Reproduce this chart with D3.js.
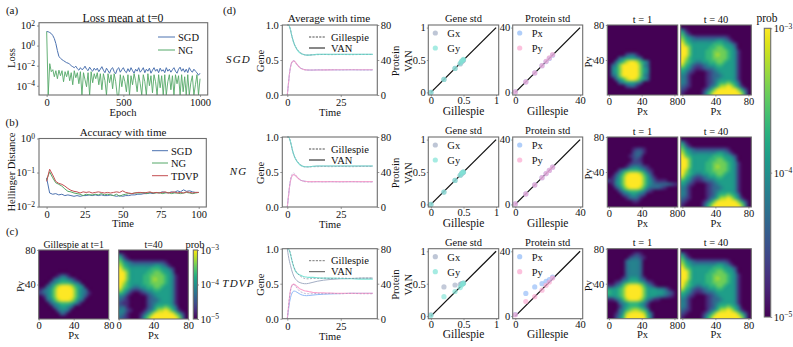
<!DOCTYPE html>
<html>
<head>
<meta charset="utf-8">
<title>Chart</title>
<script src="https://d3js.org/d3.v7.min.js"></script>
<style>
  body { margin: 0; background: #fff; }
  svg { display: block; }
  text { font-family: "Liberation Serif", serif; fill: #111; }
</style>
</head>
<body>
<svg id="chart" width="793" height="347"></svg>
<script>
// (a) loss, log10 of the value, one entry every 10 epochs
var lossSgd = [1.4,1.38,1.3,1.2,1.0,0.7,0.2,-0.5,-1.1,-1.25,-1.4,-1.5,-1.6,-1.7,-1.75,-1.85,-2.0,-2.1,-2.2,-2.05,
  -2.3,-2.45,-2.2,-2.4,-2.3,-2.05,-2.35,-2.5,-2.15,-2.4,-2.55,-2.25,-2.45,-2.25,-2.6,-2.35,-2.1,-2.45,-2.7,-2.25,
  -2.5,-2.75,-2.35,-2.2,-2.6,-2.8,-2.35,-2.2,-2.65,-2.4,-2.2,-2.55,-2.7,-2.3,-2.6,-2.2,-2.5,-2.75,-2.35,-2.55,
  -2.2,-2.65,-2.45,-2.2,-2.7,-2.35,-2.55,-2.25,-2.75,-2.45,-2.2,-2.55,-2.35,-2.7,-2.25,-2.55,-2.4,-2.7,-2.2,-2.55,
  -2.35,-2.65,-2.4,-2.2,-2.55,-2.75,-2.35,-2.15,-2.55,-2.3,-2.65,-2.35,-2.7,-2.2,-2.5,-2.65,-2.35,-2.55,-2.7,-2.95,-2.75];
var lossNg = [1.4,-4.9,-1.8,-2.6,-2.4,-3.1,-2.5,-3.3,-2.45,-3.0,-2.5,-3.6,-2.6,-3.1,-2.5,-3.5,-2.7,-3.9,-2.5,-3.2,
  -2.7,-3.8,-2.6,-5,-2.7,-3.4,-4.1,-2.7,-5,-2.6,-3.7,-2.8,-3.3,-2.7,-3.9,-2.8,-4.4,-2.8,-3.5,-5,
  -2.8,-3.7,-2.9,-4.3,-2.8,-3.6,-5,-5,-2.9,-4.1,-3.0,-3.6,-4.6,-2.9,-5,-3.0,-3.9,-2.8,-3.5,-4.6,
  -2.9,-3.8,-5,-2.9,-3.6,-5,-2.8,-4.0,-3.0,-4.7,-2.9,-3.6,-5,-2.9,-4.2,-3.0,-5,-2.9,-5,-3.6,
  -2.9,-4.4,-3.0,-5,-2.9,-3.8,-3.0,-5,-2.9,-4.6,-3.1,-5,-2.9,-5,-3.7,-3.0,-5,-3.9,-2.9,-5,-3.3];
var lossTicks = [1e2, 1, 1e-2, 1e-4];

// (b) Hellinger distance, one entry every 2 time units
var hellSgd = [.07,.025,.023,.024,.022,.023,.021,.022,.021,.02,.021,.02,.021,.021,.022,.021,.022,.021,.022,.021,.021,.022,.021,.02,.021,.02,.021,.021,.022,.022,.023,.023,.024,.024,.025,.024,.026,.025,.027,.026,.025,.027,.026,.029,.027,.031,.028,.029,.027,.026,.026];
var hellNg = [.06,.105,.07,.05,.045,.04,.033,.028,.027,.025,.024,.023,.021,.023,.022,.022,.023,.022,.024,.022,.023,.022,.021,.023,.02,.022,.023,.024,.024,.025,.025,.025,.026,.024,.026,.025,.025,.026,.024,.025,.026,.024,.025,.025,.024,.025,.026,.025,.024,.025,.026];
var hellTdvp = [.055,.125,.085,.055,.048,.045,.04,.034,.03,.028,.027,.025,.027,.026,.027,.025,.026,.027,.026,.025,.026,.025,.026,.027,.026,.029,.026,.025,.024,.025,.026,.026,.025,.026,.027,.025,.026,.025,.026,.027,.025,.026,.027,.025,.026,.025,.027,.026,.025,.026,.026];
var hellTicks = [1, 0.1, 0.01];

// (d) averages against time; gene on the left axis, protein on the right
var times = [0,.5,1,1.5,2,2.5,3,3.5,4,5,6,7,8,9,10,12,14,17,20,25,30,35,40];
var geneGil = [1,1,.98,.93,.86,.8,.75,.71,.68,.64,.61,.59,.575,.57,.57,.575,.575,.58,.575,.58,.575,.58,.58];
var protGil = [0,12,24,32,36.5,38.5,39,38,36.5,33.5,31,30,29,28.5,28.5,28.5,29,28.5,29,28.5,29,28.5,28.5];
var geneSgdVan = [1,1,.98,.93,.86,.8,.75,.71,.68,.63,.6,.585,.575,.57,.57,.575,.58,.58,.58,.58,.58,.58,.58];
var protSgdVan = [0,12,24,32,36.5,38.5,39,38.3,36.7,33.5,31,29.8,29,28.7,28.5,28.5,28.6,28.7,28.7,28.8,28.8,28.8,28.8];
var geneNgVan = [1,1,.98,.93,.87,.8,.75,.71,.68,.635,.6,.585,.575,.575,.575,.58,.585,.585,.585,.585,.585,.585,.585];
var protNgVan = [0,11,22,30,34.5,36.5,37,36.5,35.5,33,31,30,29.5,29.2,29,29,29,29,29,29,29,29,29];
var gxTdvpVan = [1,.9,.82,.76,.7,.65,.61,.58,.56,.53,.515,.505,.5,.5,.505,.52,.535,.55,.56,.57,.575,.58,.58];
var gyTdvpVan = [1,1,.97,.92,.85,.79,.74,.7,.67,.64,.625,.61,.6,.595,.59,.59,.585,.58,.58,.575,.57,.565,.565];
var pxTdvpVan = [0,9,18,24,28,30.5,31.5,31.5,31,29.5,28,27,26.5,26.3,26.5,27,27.5,28,28.3,28.7,29,29,29];
var pyTdvpVan = [0,12,24,33,37.5,39,39.5,39,38,36,34,33,32,31.5,31,30,29.7,29.5,29.2,29,29,29,29];

// (d) standard deviations, Gillespie against VAN
var geneStdX = [0,.2,.37,.45,.47,.49,.5];
var protStdX = [0,6.5,12,16.5,19,21,23];
var gxSgd = [0,.2,.37,.44,.47,.49,.5];
var gySgd = [0,.2,.37,.45,.48,.5,.51];
var pxSgd = [.3,6.5,12,16.5,19,21,23];
var pySgd = [.3,6.5,12,16.5,19.2,21.3,23.3];
var gxNg = [0,.19,.37,.45,.47,.49,.5];
var gyNg = [0,.19,.37,.45,.48,.5,.5];
var pxNg = [.3,6.5,12,16.5,19,21,23];
var pyNg = [.3,6.5,12,16.5,19,21,23];
var gxTdvp = [.02,.45,.48,.49,.5,.5,.51];
var gyTdvp = [.01,.3,.38,.44,.48,.5,.51];
var pxTdvp = [1,14,18,20,21.5,22.5,24];
var pyTdvp = [.8,9,12,16,19,21,23.5];

// probability maps, 20 x 20 cells, top row first. Each digit is a level on the colour bar,
// 0 = 10^-5 and 9 = 10^-3 in even log steps
var cT1 = [
"00000000000000000000","00000000000000000000","00000000000000000000","00000000000000000000",
"00000000000000000000","00000000000000000000","00000000000000000000","00000133100000000000",
"00003455431000000000","00034566654300000000","00346899986540000000","13457999997543000000",
"23457999997543100000","01457999997542000000","00346899986430000000","00034566654200000000",
"00003455430000000000","00000344300000000000","00000032000000000000","00000000000000000000"];
var cT40 = [
"00000000000000000000","41000000000000000000","63100000000000000000","75432222222221000000",
"86544444445543100000","97655555566655420000","99755555667765530000","99755556677776541000",
"99755556678776541000","98655556677776541000","97654455667765541000","86532234556655541000",
"65310012345555541000","43100000234555541000","32100000233455541000","21100000234555541000",
"33100000235667653000","44210001346889864100","43100013579999997520","32100025799999999730"];
var sgdT1 = [
"00000000000000000000","00000000000000000000","00000000000000000000","00000000000000000000",
"00000000000000000000","00000000000000000000","00000000000000000000","00000000000000000000",
"00000233100000000000","00034555430000000000","00356899865300000000","03479999974300000000",
"04579999975400000000","04579999975400000000","03479999974300000000","00356899865300000000",
"00034555430000000000","00000233100000000000","00000000000000000000","00000000000000000000"];
var sgdT40 = [
"00000000000000000000","41000000000000000000","63100000000000000000","75432222222221000000",
"86544444445543100000","97655555566655420000","99755555667765530000","99755556677776541000",
"99755556678776541000","98655556677776541000","97654455667765541000","86532234556655541000",
"65421123345555541000","54210001234555541000","43100001233455541000","43100001234555541000",
"43100001235667653000","32100001346889864100","21000013579999997520","10000025799999999730"];
var ngT1 = [
"00000000000000000000","00000000000000000000","00000000000000000000","00000001221000000000",
"00000002331000000000","00000012320000000000","00000002210000000000","00000012220000000000",
"00000134432100000000","00024566654210000000","00246899986420000000","01357999997531000000",
"21457999997542111000","01457999997543333321","00246899986433321000","00024566654210000000",
"00002345432000000000","00000133310000000000","00000001100000000000","00000000000000000000"];
var ngT40 = [
"00000000000000000000","41000000000000000000","63100000000000000000","75432222222221000000",
"86544444445543100000","97655555566655420000","99755555667765530000","99755556677776541000",
"99755556678776541000","98655556677776541000","97654455667765541000","86532234556655541000",
"65421123345555541000","54210001234555541000","43100001233455541000","43100001234555541000",
"43100001235667653000","32100001346889864100","21000013579999997520","10000025799999999730"];
var tdvpT1 = [
"00000000000000000000","00000001210000000000","00000023321000000000","00000344430000000000",
"00000344430000000000","00000344430000000000","00000344430000000000","00000344430000000000",
"00002355532000000000","00124566654210000000","11346899986431000000","55567999997555443100",
"65567999997555554320","55567999997555443210","11346899986431100000","00034566654200000000",
"00014566654100000000","00034678876400000000","00135899998530000000","00246999999630000000"];
var tdvpT40 = [
"00000000000000000000","41000000000000000000","63100000000000000000","75432222222221000000",
"86544444445543100000","97655555566655420000","99755555667765530000","99755556677776541000",
"99755556678776541000","98655556677776541000","97654455667765541000","86532234556655541000",
"65421123345555541000","54210001234555541000","43100001233455541000","43100001234555541000",
"43100001235667653000","32100001346889864100","21000013579999997520","10000025799999999730"];

var rowNames = ["SGD", "NG", "TDVP"];
var gillespieLabel = ["Gillespie", "VAN"];
var stdLegendGene = ["Gx", "Gy"];
var stdLegendProt = ["Px", "Py"];

var frameColor = "#6e6e6e";
var gxColor = "#a3aec4", gyColor = "#7fe3d6", pxColor = "#8fb9f7", pyColor = "#fba6cf";

var svg = d3.select("#chart");
var colorScale = d3.scaleSequentialLog(d3.interpolateViridis).domain([1e-5, 1e-3]);

// writes 10^n as a text with a raised exponent
function powerLabel(sel) {
  sel.each(function(d) {
    var t = d3.select(this);
    var e = Math.round(Math.log10(d));
    t.text("10");
    t.append("tspan").attr("dy", "-0.45em").attr("font-size", "0.72em").text(e < 0 ? "\u2212" + (-e) : e);
  });
}

function styleAxis(g, size) {
  g.selectAll("text").attr("font-size", size || 10.5);
  g.selectAll("line").attr("stroke", frameColor).attr("stroke-width", 0.7);
  g.select(".domain").remove();
}

function box(x0, x1, y0, y1) {
  svg.append("rect").attr("x", x0).attr("y", y0).attr("width", x1 - x0).attr("height", y1 - y0)
    .attr("fill", "none").attr("stroke", frameColor).attr("stroke-width", 1.1);
}

function label(x, y, txt, size, rot, style) {
  var t = svg.append("text").attr("text-anchor", "middle").attr("font-size", size || 10.5).text(txt);
  t.attr("transform", "translate(" + x + "," + y + ")" + (rot ? " rotate(" + rot + ")" : ""));
  if (style) t.attr("font-style", "italic").attr("letter-spacing", 1.2);
  return t;
}

// ---- (a)
var ax = d3.scaleLinear().domain([-50, 1050]).range([39, 207.7]);
var ay = d3.scaleLog().domain([1e-5 * 1.2, Math.pow(10, 2.28)]).range([95, 22.7]).clamp(true);
var lossLine = d3.line().x(function(d, i) { return ax(i * 10); }).y(function(d) { return ay(Math.pow(10, d)); });

svg.append("path").attr("d", lossLine(lossSgd)).attr("fill", "none").attr("stroke", "#4c72b0").attr("stroke-width", 1);
svg.append("path").attr("d", lossLine(lossNg)).attr("fill", "none").attr("stroke", "#55a868").attr("stroke-width", 1).attr("opacity", 0.9);
svg.append("g").attr("transform", "translate(0,95)").call(d3.axisBottom(ax).tickValues([0, 500, 1000]).tickFormat(d3.format("d")).tickSize(2).tickPadding(2)).call(styleAxis);
var ayAxis = svg.append("g").attr("transform", "translate(39,0)").call(d3.axisLeft(ay).tickValues(lossTicks).tickSize(2).tickPadding(2));
ayAxis.call(styleAxis);
ayAxis.selectAll("text").call(powerLabel);
box(39, 207.7, 22.7, 95);
label(123, 22, "Loss mean at t=0", 11.8);
label(123, 116, "Epoch", 10.5);
label(15, 58, "Loss", 10.5, -90);
svg.append("line").attr("x1", 158).attr("x2", 175).attr("y1", 37).attr("y2", 37).attr("stroke", "#4c72b0");
svg.append("line").attr("x1", 158).attr("x2", 175).attr("y1", 50).attr("y2", 50).attr("stroke", "#55a868");
svg.append("text").attr("x", 178).attr("y", 41).attr("font-size", 10.5).text("SGD");
svg.append("text").attr("x", 178).attr("y", 54).attr("font-size", 10.5).text("NG");

// ---- (b)
var bx = d3.scaleLinear().domain([-5, 105]).range([39, 206.3]);
var by = d3.scaleLog().domain([0.0097, 1]).range([207, 138.5]);
var hellLine = d3.line().x(function(d, i) { return bx(i * 2); }).y(function(d) { return by(d); });
[[hellSgd, "#4c72b0"], [hellNg, "#55a868"], [hellTdvp, "#c44e52"]].forEach(function(s) {
  svg.append("path").attr("d", hellLine(s[0])).attr("fill", "none").attr("stroke", s[1]).attr("stroke-width", 1);
});
svg.append("g").attr("transform", "translate(0,207)").call(d3.axisBottom(bx).tickValues([0, 25, 50, 75, 100]).tickSize(2).tickPadding(2)).call(styleAxis);
var byAxis = svg.append("g").attr("transform", "translate(39,0)").call(d3.axisLeft(by).tickValues(hellTicks).tickSize(2).tickPadding(2));
byAxis.call(styleAxis);
byAxis.selectAll("text").call(powerLabel);
box(39, 206.3, 138.5, 207);
label(123, 136, "Accuracy with time", 11);
label(123, 227, "Time", 10.5);
label(15, 172, "Hellinger Distance", 10.5, -90);
[["SGD", 150.7, "#4c72b0"], ["NG", 163, "#55a868"], ["TDVP", 175.7, "#c44e52"]].forEach(function(s) {
  svg.append("line").attr("x1", 152).attr("x2", 168).attr("y1", s[1]).attr("y2", s[1]).attr("stroke", s[2]);
  svg.append("text").attr("x", 171).attr("y", s[1] + 4).attr("font-size", 10.5).text(s[0]);
});

// ---- heat maps, the x range can run a bit past 0..80
function heat(grid, x0, y0, w, h, yTicks, title, titleSize, xDomain) {
  var n = grid.length, cv = document.createElement("canvas");
  cv.width = n; cv.height = n;
  var c = cv.getContext("2d");
  grid.forEach(function(row, j) {
    row.split("").forEach(function(ch, i) {
      c.fillStyle = colorScale(Math.pow(10, -5 + 2 * (+ch) / 9));
      c.fillRect(i, j, 1, 1);
    });
  });
  // scale up and soften, the plain copy underneath keeps the edges from fading
  var big = document.createElement("canvas");
  big.width = 280; big.height = 280;
  var b = big.getContext("2d");
  b.imageSmoothingEnabled = true;
  b.imageSmoothingQuality = "high";
  b.drawImage(cv, 0, 0, 280, 280);
  b.filter = "blur(5px)";
  b.drawImage(big, 0, 0);
  b.filter = "none";
  svg.append("image").attr("x", x0).attr("y", y0).attr("width", w).attr("height", h)
    .attr("preserveAspectRatio", "none").attr("href", big.toDataURL());
  var sx = d3.scaleLinear().domain(xDomain || [0, 80]).range([x0, x0 + w]);
  var sy = d3.scaleLinear().domain([0, 80]).range([y0 + h, y0]);
  svg.append("g").attr("transform", "translate(0," + (y0 + h) + ")")
    .call(d3.axisBottom(sx).tickValues([0, 40, 80]).tickSize(1.5).tickPadding(1)).call(styleAxis);
  if (yTicks) {
    svg.append("g").attr("transform", "translate(" + x0 + ",0)")
      .call(d3.axisLeft(sy).tickValues([40, 80]).tickSize(1.5).tickPadding(1.5)).call(styleAxis);
    label(x0 - 15, y0 + h / 2 + 2, "Py", 10.5, -90);
  }
  box(x0, x0 + w, y0, y0 + h);
  label(x0 + w / 2, y0 - 2.5, title, titleSize || 10.5);
  label(x0 + w / 2, y0 + h + 19.5, "Px", 10.5);
}

function colorBar(id, x0, x1, y0, y1, size) {
  var grad = svg.append("defs").append("linearGradient").attr("id", id).attr("x1", 0).attr("x2", 0).attr("y1", 1).attr("y2", 0);
  d3.range(0, 1.01, 0.05).forEach(function(f) {
    grad.append("stop").attr("offset", f).attr("stop-color", d3.interpolateViridis(f));
  });
  svg.append("rect").attr("x", x0).attr("y", y0).attr("width", x1 - x0).attr("height", y1 - y0).attr("fill", "url(#" + id + ")");
  var sc = d3.scaleLog().domain([1e-5, 1e-3]).range([y1, y0]);
  var g = svg.append("g").attr("transform", "translate(" + x1 + ",0)")
    .call(d3.axisRight(sc).tickValues([1e-5, 1e-4, 1e-3]).tickSize(1.5).tickPadding(1.5));
  g.call(styleAxis, size);
  g.selectAll("text").call(powerLabel);
  box(x0, x1, y0, y1);
}

// ---- (c)
heat(cT1, 38.7, 250, 70, 69, true, "Gillespie at t=1", 9.8);
heat(cT40, 118.7, 250, 69.6, 69, false, "t=40", 9.8);
colorBar("cbC", 193.3, 197.5, 250, 319, 10.5);
label(195, 248, "prob", 10.5);

// ---- (d)
var rowTops = [25, 137, 248.7];
var rowH = 70;
var dRows = [
  { geneVan: [geneSgdVan, geneSgdVan], protVan: [protSgdVan, protSgdVan], gene: [gxSgd, gySgd], prot: [pxSgd, pySgd], t1: sgdT1, t40: sgdT40 },
  { geneVan: [geneNgVan, geneNgVan], protVan: [protNgVan, protNgVan], gene: [gxNg, gyNg], prot: [pxNg, pyNg], t1: ngT1, t40: ngT40 },
  { geneVan: [gxTdvpVan, gyTdvpVan], protVan: [pxTdvpVan, pyTdvpVan], gene: [gxTdvp, gyTdvp], prot: [pxTdvp, pyTdvp], t1: tdvpT1, t40: tdvpT40 }
];

dRows.forEach(function(r, k) {
  var top = rowTops[k], bot = top + rowH, mid = top + rowH / 2;
  label(238.5, mid + 3, rowNames[k], 11, 0, true);

  // averages
  var tx = d3.scaleLinear().domain([-2.34, 42.1]).range([282.3, 377.3]);
  var gy = d3.scaleLinear().domain([0, 1]).range([bot, top]);
  var py = d3.scaleLinear().domain([0, 80]).range([bot, top]);
  var gLine = d3.line().curve(d3.curveMonotoneX).x(function(d, i) { return tx(times[i]); }).y(function(d) { return gy(d); });
  var pLine = d3.line().curve(d3.curveMonotoneX).x(function(d, i) { return tx(times[i]); }).y(function(d) { return py(d); });
  svg.append("path").attr("d", gLine(r.geneVan[0])).attr("fill", "none").attr("stroke", gxColor).attr("stroke-width", 1);
  svg.append("path").attr("d", gLine(r.geneVan[1])).attr("fill", "none").attr("stroke", gyColor).attr("stroke-width", 1.1);
  svg.append("path").attr("d", pLine(r.protVan[0])).attr("fill", "none").attr("stroke", pxColor).attr("stroke-width", 1);
  svg.append("path").attr("d", pLine(r.protVan[1])).attr("fill", "none").attr("stroke", pyColor).attr("stroke-width", 1.1);
  svg.append("path").attr("d", gLine(geneGil)).attr("fill", "none").attr("stroke", "#6f7f90").attr("stroke-width", 0.7).attr("stroke-dasharray", "2,1.5").attr("opacity", k == 2 ? 0.9 : 0.55);
  svg.append("path").attr("d", pLine(protGil)).attr("fill", "none").attr("stroke", "#9a8fc0").attr("stroke-width", 0.7).attr("stroke-dasharray", "2,1.5").attr("opacity", k == 2 ? 0.9 : 0.55);

  svg.append("g").attr("transform", "translate(0," + bot + ")").call(d3.axisBottom(tx).tickValues([0, 25]).tickSize(2).tickPadding(1.5)).call(styleAxis);
  svg.append("g").attr("transform", "translate(282.3,0)").call(d3.axisLeft(gy).tickValues([0, 0.5, 1]).tickFormat(d3.format(".1f")).tickSize(2).tickPadding(1.5)).call(styleAxis);
  svg.append("g").attr("transform", "translate(377.3,0)").call(d3.axisRight(py).tickValues([0, 40, 80]).tickSize(2).tickPadding(1.5)).call(styleAxis);
  box(282.3, 377.3, top, bot);
  if (k == 0) label(329, top - 3, "Average with time", 11.2);
  label(330, bot + 21, "Time", 10.5);
  label(264, mid + 1, "Gene", 10.5, -90);
  label(399, mid + 1, "Protein", 10.5, -90);
  svg.append("line").attr("x1", 309).attr("x2", 325).attr("y1", top + 12).attr("y2", top + 12).attr("stroke", k == 2 ? "#555" : "#222").attr("stroke-width", 0.8).attr("stroke-dasharray", "2.2,1.2");
  svg.append("line").attr("x1", 309).attr("x2", 325).attr("y1", top + 23).attr("y2", top + 23).attr("stroke", k == 2 ? "#555" : "#111").attr("stroke-width", 1);
  svg.append("text").attr("x", 331).attr("y", top + 15.5).attr("font-size", 10.5).text(gillespieLabel[0]);
  svg.append("text").attr("x", 331).attr("y", top + 26.5).attr("font-size", 10.5).text(gillespieLabel[1]);

  // std scatter, gene then protein
  [[428.3, 498.7, 1, geneStdX, r.gene, [0, 0.5, 1], "Gene std", stdLegendGene, [gxColor, gyColor]],
   [512.7, 582.7, 40, protStdX, r.prot, [0, 40], "Protein std", stdLegendProt, [pxColor, pyColor]]].forEach(function(p) {
    var m = p[2] * 0.04;
    var sx = d3.scaleLinear().domain([-m, p[2] + m]).range([p[0], p[1]]);
    var sy = d3.scaleLinear().domain([-m, p[2] + m]).range([bot, top]);
    svg.append("line").attr("x1", sx(0)).attr("y1", sy(0)).attr("x2", sx(p[2])).attr("y2", sy(p[2])).attr("stroke", "#111").attr("stroke-width", 1.3);
    p[4].forEach(function(series, si) {
      svg.selectAll(null).data(series).enter().append("circle")
        .attr("cx", function(d, i) { return sx(p[3][i]); })
        .attr("cy", function(d) { return sy(d); })
        .attr("r", 2.6).attr("fill", p[8][si]).attr("opacity", 0.65);
    });
    svg.append("g").attr("transform", "translate(0," + bot + ")").call(d3.axisBottom(sx).tickValues(p[5]).tickFormat(d3.format("")).tickSize(1.5).tickPadding(0.5)).call(styleAxis);
    svg.append("g").attr("transform", "translate(" + p[0] + ",0)").call(d3.axisLeft(sy).tickValues(p[5]).tickFormat(d3.format("")).tickSize(1.5).tickPadding(1)).call(styleAxis);
    box(p[0], p[1], top, bot);
    label((p[0] + p[1]) / 2, top - 3, p[6], 10.5);
    label((p[0] + p[1]) / 2, bot + 19.5, "Gillespie", 11.5);
    p[7].forEach(function(name, si) {
      var ly = top + 8 + si * 15;
      svg.append("circle").attr("cx", p[0] + 7).attr("cy", ly).attr("r", 2.6).attr("fill", p[8][si]).attr("opacity", 0.7);
      svg.append("text").attr("x", p[0] + 19).attr("y", ly + 4).attr("font-size", 10.5).text(name);
    });
  });
  label(412, mid + 1, "VAN", 10.5, -90);

  // maps
  heat(r.t1, 607.3, top, 70.4, rowH, true, "t = 1", 10.5, [-2, 84]);
  heat(r.t40, 680.7, top, 70.6, rowH, false, "t = 40", 10.5, [-2, 83.5]);
});

colorBar("cbD", 764.3, 770.7, 28.3, 317, 10.5);
label(767, 22, "prob", 11.5);

// panel letters
[["(a)", 12, 14], ["(b)", 12, 126], ["(c)", 12, 235], ["(d)", 229.5, 14]].forEach(function(s) {
  label(s[1], s[2], s[0], 11);
});
</script>
</body>
</html>
